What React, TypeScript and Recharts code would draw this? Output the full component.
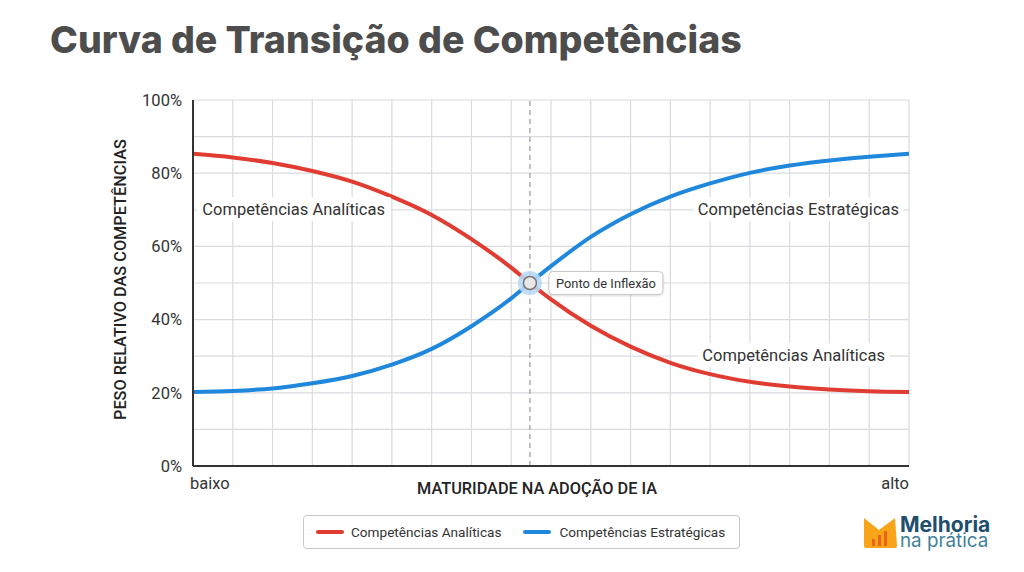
import {
  LineChart,
  Line,
  XAxis,
  YAxis,
  CartesianGrid,
  ReferenceLine,
  ReferenceDot,
  Legend,
} from "recharts";

const positions = [0, 1, 2, 3, 4, 5, 6, 7, 8, 8.47, 9, 10, 11, 12, 13, 14, 15, 16, 17, 18];
const analiticas = [85.3, 84.3, 82.8, 80.6, 77.7, 73.6, 68.6, 62, 54.2, 50, 45.5, 38.3, 32.6, 28.2, 25.1, 23, 21.7, 20.9, 20.4, 20.2];
const estrategicas = [20.2, 20.5, 21.2, 22.6, 24.6, 27.7, 32, 38.2, 45.8, 50, 54.6, 62.6, 68.8, 73.6, 77.2, 80.1, 82.1, 83.5, 84.5, 85.3];

const xTicks = [0, 1, 2, 3, 4, 5, 6, 7, 8, 9, 10, 11, 12, 13, 14, 15, 16, 17, 18];
const yTicks = [0, 20, 40, 60, 80, 100];
const yGrid = [0, 10, 20, 30, 40, 50, 60, 70, 80, 90, 100];
const inflexao = 8.47;

const RED = "#e03c31";
const BLUE = "#1f88dc";
const FONT = "Roboto, sans-serif";

const data = positions.map((x, i) => ({
  x,
  analiticas: analiticas[i],
  estrategicas: estrategicas[i],
}));

const XTick = ({ x, y, payload }: any) => {
  if (payload.value === 0) {
    return (
      <text x={x - 3} y={y + 15} textAnchor="start" fontSize={16.5} fill="#333" fontFamily={FONT}>
        baixo
      </text>
    );
  }
  if (payload.value === 18) {
    return (
      <text x={x} y={y + 15} textAnchor="end" fontSize={16.5} fill="#333" fontFamily={FONT}>
        alto
      </text>
    );
  }
  return null;
};

const CurveLabel = ({ viewBox, value, width }: any) => {
  const cx = viewBox.x;
  const cy = viewBox.y;
  return (
    <g>
      <rect x={cx - width / 2} y={cy - 12} width={width} height={24} fill="#fff" />
      <text x={cx} y={cy + 5.5} textAnchor="middle" fontSize={16.5} fill="#333" fontFamily={FONT}>
        {value}
      </text>
    </g>
  );
};

const InflexaoMark = ({ cx, cy }: any) => (
  <g>
    <circle cx={cx} cy={cy} r={12} fill="#b9d9f5" fillOpacity={0.9} />
    <circle cx={cx} cy={cy} r={6.5} fill="#e8e8e8" stroke="#777" strokeWidth={1.5} />
    <rect
      x={cx + 19}
      y={cy - 11.5}
      width={114}
      height={23}
      rx={4}
      fill="#fff"
      stroke="#c9c9c9"
      style={{ filter: "drop-shadow(0 1px 1px rgba(0,0,0,0.15))" }}
    />
    <text x={cx + 26} y={cy + 4.5} fontSize={12.9} fill="#333" fontFamily={FONT}>
      Ponto de Inflexão
    </text>
  </g>
);

const LegendBox = () => (
  <div
    style={{
      boxSizing: "border-box",
      width: 437,
      height: 34,
      border: "1px solid #c8c8c8",
      borderRadius: 4,
      background: "#fff",
      display: "flex",
      alignItems: "center",
      fontFamily: FONT,
      fontSize: 13.6,
      color: "#333",
      paddingLeft: 12,
    }}
  >
    <span style={{ width: 28, height: 4, borderRadius: 2, background: RED, marginRight: 7 }} />
    <span style={{ marginRight: 22 }}>Competências Analíticas</span>
    <span style={{ width: 28, height: 4, borderRadius: 2, background: BLUE, marginRight: 8 }} />
    <span>Competências Estratégicas</span>
  </div>
);

const Logo = () => (
  <div style={{ position: "absolute", left: 862, top: 504, width: 150, height: 60 }}>
    <svg width={150} height={60}>
      <path d="M2 14 L17 26 L33 14 L35 42 Q35 44 33 44 L4 44 Q2 44 2 42 Z" fill="#f9a51a" />
      <rect x={10} y={35} width={3} height={7} fill="#e8641b" />
      <rect x={16} y={31} width={3} height={11} fill="#e8641b" />
      <rect x={22} y={27} width={3} height={15} fill="#e8641b" />
      <text x={38} y={28} fontSize={21} fontWeight={700} fill="#1d4e6e" fontFamily="Inter, sans-serif">
        Melhoria
      </text>
      <text x={38} y={43} fontSize={18.8} fill="#3f7f9c" fontFamily="Inter, sans-serif">
        na prática
      </text>
    </svg>
  </div>
);

export default function App() {
  return (
    <div
      style={{
        position: "absolute",
        left: 0,
        top: 0,
        width: 1024,
        height: 572,
        background: "#fff",
        overflow: "hidden",
      }}
    >
      <div
        style={{
          position: "absolute",
          left: 50,
          top: 17,
          fontFamily: "Inter, sans-serif",
          fontWeight: 800,
          fontSize: 37.5,
          color: "#4d4d4d",
          whiteSpace: "nowrap",
        }}
      >
        Curva de Transição de Competências
      </div>
      <LineChart
        width={1024}
        height={572}
        data={data}
        margin={{ top: 100, right: 115, left: 133, bottom: 22 }}
      >
        <CartesianGrid
          stroke="#d9dbe0"
          strokeWidth={1.2}
          horizontalValues={yGrid}
          verticalValues={xTicks}
        />
        <XAxis
          dataKey="x"
          type="number"
          domain={[0, 18]}
          ticks={xTicks}
          interval={0}
          height={50}
          tick={<XTick />}
          tickLine={false}
          axisLine={{ stroke: "#333", strokeWidth: 2 }}
          label={{
            value: "MATURIDADE NA ADOÇÃO DE IA",
            position: "insideTop",
            dx: -14,
            dy: 11,
            fontSize: 16.3,
            fontWeight: 500,
            fill: "#222",
            fontFamily: FONT,
          }}
        />
        <YAxis
          type="number"
          domain={[0, 100]}
          ticks={yTicks}
          width={60}
          tickFormatter={(v) => `${v}%`}
          tick={{ fontSize: 16.5, fill: "#333", fontFamily: FONT, dx: -3 }}
          tickLine={false}
          axisLine={{ stroke: "#333", strokeWidth: 2 }}
          label={{
            value: "PESO RELATIVO DAS COMPETÊNCIAS",
            angle: -90,
            position: "insideLeft",
            dx: -18,
            dy: 137,
            fontSize: 16.3,
            fontWeight: 500,
            fill: "#222",
            fontFamily: FONT,
          }}
        />
        <ReferenceLine x={inflexao} stroke="#999" strokeDasharray="5 4" strokeWidth={1.2} />
        <ReferenceDot
          x={2.53}
          y={70.2}
          r={0}
          ifOverflow="visible"
          label={<CurveLabel value="Competências Analíticas" width={194} />}
        />
        <ReferenceDot
          x={15.22}
          y={70.2}
          r={0}
          ifOverflow="visible"
          label={<CurveLabel value="Competências Estratégicas" width={210} />}
        />
        <ReferenceDot
          x={15.1}
          y={30.3}
          r={0}
          ifOverflow="visible"
          label={<CurveLabel value="Competências Analíticas" width={192} />}
        />
        <Line
          dataKey="analiticas"
          name="Competências Analíticas"
          type="monotone"
          stroke={RED}
          strokeWidth={4}
          dot={false}
          isAnimationActive={false}
        />
        <Line
          dataKey="estrategicas"
          name="Competências Estratégicas"
          type="monotone"
          stroke={BLUE}
          strokeWidth={4}
          dot={false}
          isAnimationActive={false}
        />
        <ReferenceDot x={inflexao} y={50} shape={<InflexaoMark />} ifOverflow="visible" />
        <Legend
          content={<LegendBox />}
          wrapperStyle={{ position: "absolute", left: 303, top: 515, width: 437, bottom: "auto" }}
        />
      </LineChart>
      <Logo />
    </div>
  );
}
